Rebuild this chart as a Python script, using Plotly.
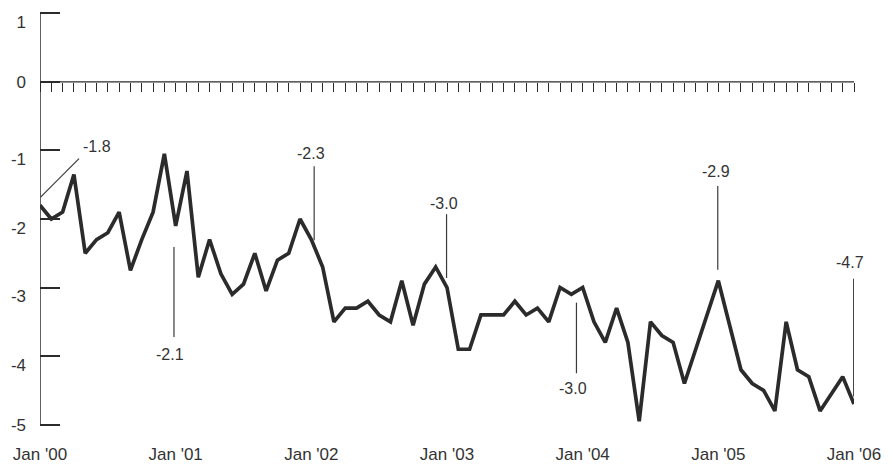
import plotly.graph_objects as go

# ---- data ----
month_index = list(range(73))  # Jan 2000 .. Jan 2006, monthly
values = [
    -1.8, -2.0, -1.9, -1.35, -2.5, -2.3, -2.2, -1.9, -2.75, -2.3, -1.9, -1.05,
    -2.1, -1.3, -2.85, -2.3, -2.8, -3.1, -2.95, -2.5, -3.05, -2.6, -2.5, -2.0,
    -2.3, -2.7, -3.5, -3.3, -3.3, -3.2, -3.4, -3.5, -2.9, -3.55, -2.95, -2.7,
    -3.0, -3.9, -3.9, -3.4, -3.4, -3.4, -3.2, -3.4, -3.3, -3.5, -3.0, -3.1,
    -3.0, -3.5, -3.8, -3.3, -3.8, -4.95, -3.5, -3.7, -3.8, -4.4, -3.9, -3.4,
    -2.9, -3.55, -4.2, -4.4, -4.5, -4.8, -3.5, -4.2, -4.3, -4.8, -4.55, -4.3,
    -4.7,
]
year_ticks = [0, 12, 24, 36, 48, 60, 72]
year_labels = ["Jan '00", "Jan '01", "Jan '02", "Jan '03", "Jan '04", "Jan '05", "Jan '06"]
y_ticks = [1, 0, -1, -2, -3, -4, -5]
y_tick_labels = ["1", "0", "-1", "-2", "-3", "-4", "-5"]
callout_labels = ["-1.8", "-2.1", "-2.3", "-3.0", "-3.0", "-2.9", "-4.7"]

# ---- callout placement (layout only) ----
# (text_x, text_y, line_x0, line_y0, line_x1, line_y1)
callout_pos = [
    (5.0, -0.94, 0.05, -1.68, 3.45, -1.12),
    (11.5, -3.97, 11.85, -2.41, 11.85, -3.72),
    (24.0, -1.05, 24.25, -1.23, 24.25, -2.31),
    (35.7, -1.77, 35.96, -1.93, 35.96, -2.86),
    (47.15, -4.47, 47.45, -3.22, 47.45, -4.25),
    (59.8, -1.31, 59.95, -1.52, 59.95, -2.74),
    (71.68, -2.64, 71.97, -2.87, 71.97, -4.59),
]

INK = "#2b2b2b"
FONT = "Liberation Sans, Arial, sans-serif"
YR = [-5.02, 1.02]

# labels sitting a little below their tick (all but 0 and -5 in the source)
shifted_text = [t if v not in (0, -5) else "" for v, t in zip(y_ticks, y_tick_labels)]
level_vals = [v for v in y_ticks if v in (0, -5)]
level_text = [t for v, t in zip(y_ticks, y_tick_labels) if v in (0, -5)]

fig = go.Figure()
fig.add_trace(go.Scatter(
    x=month_index, y=values, mode="lines",
    line=dict(color=INK, width=3.7),
    showlegend=False, hoverinfo="skip",
))
# zero line carrying the monthly tick axis
fig.add_trace(go.Scatter(
    x=[month_index[0], month_index[-1]], y=[0, 0], xaxis="x2", yaxis="y2", mode="lines",
    line=dict(color=INK, width=1.3),
    showlegend=False, hoverinfo="skip",
))

shapes = []
annotations = []
for lab, (tx, ty, x0, y0, x1, y1) in zip(callout_labels, callout_pos):
    shapes.append(dict(type="line", xref="x", yref="y", x0=x0, y0=y0, x1=x1, y1=y1,
                       line=dict(color="#3a3a3a", width=1.2)))
    annotations.append(dict(x=tx, y=ty, xref="x", yref="y", text=lab, showarrow=False,
                            xanchor="center", yanchor="middle",
                            font=dict(family=FONT, size=16, color="#333333")))
# y-axis spine from top tick to bottom tick
shapes.append(dict(type="line", xref="x", yref="y", x0=0, x1=0, y0=y_ticks[-1], y1=y_ticks[0],
                   line=dict(color=INK, width=1.5)))

# page body adds an 8px offset; the figure is laid out to compensate
fig.update_layout(
    width=885, height=456,
    margin=dict(l=32, r=39, t=4, b=38, autoexpand=False),
    paper_bgcolor="white", plot_bgcolor="white",
    font=dict(family=FONT, color="#333333"),
    shapes=shapes, annotations=annotations,
    xaxis=dict(
        range=[0, 72], tickvals=year_ticks, ticktext=year_labels,
        showline=False, showgrid=False, zeroline=False, ticks="",
        ticklabelstandoff=16, automargin=False, ticklabeloverflow="allow",
        tickfont=dict(family=FONT, size=17, color="#333333"),
    ),
    xaxis2=dict(
        range=[0, 72], overlaying="x", anchor="free", position=(0 - YR[0]) / (YR[1] - YR[0]),
        side="bottom", tick0=0, dtick=1, ticks="outside", ticklen=9, tickwidth=1.3,
        tickcolor=INK, showticklabels=False, showline=False, showgrid=False,
        zeroline=False, automargin=False,
    ),
    yaxis=dict(
        range=YR, tickvals=y_ticks, ticktext=shifted_text,
        showline=False, ticks="inside", ticklen=20, tickwidth=1.5, tickcolor=INK,
        showgrid=False, zeroline=False, automargin=False,
        ticklabelshift=9, ticklabelstandoff=13, ticklabeloverflow="allow",
        tickfont=dict(family=FONT, size=17, color="#333333"),
    ),
    yaxis2=dict(
        range=YR, overlaying="y", anchor="x", side="left", matches="y",
        tickvals=level_vals, ticktext=level_text, ticks="",
        showline=False, showgrid=False, zeroline=False, automargin=False,
        ticklabelstandoff=13, ticklabeloverflow="allow",
        tickfont=dict(family=FONT, size=17, color="#333333"),
    ),
)

fig.write_html("out.html")
